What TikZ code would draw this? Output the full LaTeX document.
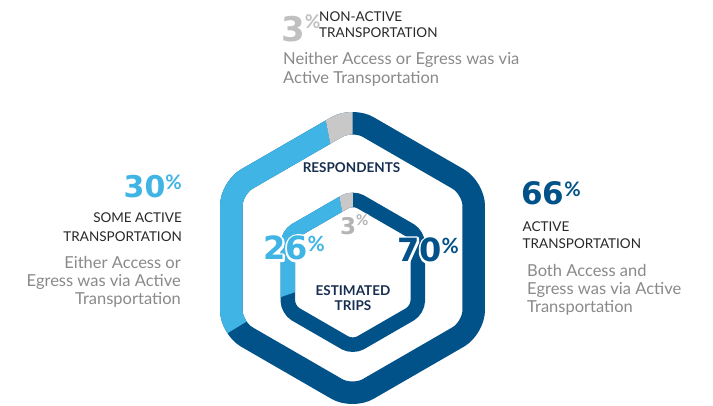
\documentclass[tikz,border=0pt]{standalone}
\usepackage{fontspec}
\setmainfont{Lato}
\newfontfamily\numfont{DejaVu Sans}
\newfontfamily\halofont{DejaVu Sans}[BoldFeatures={FakeBold=14}]
\newfontfamily\halopctfont{Lato}[BoldFeatures={FakeBold=14}]
\definecolor{dkb}{RGB}{0,82,137}
\definecolor{ltb}{RGB}{63,180,229}
\definecolor{ringgray}{RGB}{200,200,200}
\definecolor{navy}{RGB}{24,46,80}
\definecolor{desc}{RGB}{138,138,138}
\definecolor{lab}{RGB}{40,40,40}
\definecolor{numgray}{RGB}{192,192,192}
\definecolor{numgrayin}{RGB}{180,180,180}
% #1 digit font, #2 percent font, #3 digit size, #4 percent size, #5 raise, #6 digits
\newcommand{\bignumf}[6]{{#1\bfseries\fontsize{#3}{#3}\selectfont #6\raisebox{#5pt}{#2\bfseries\fontsize{#4}{#4}\selectfont\%}}}
\newcommand{\bignum}[4]{\bignumf{\numfont}{\rmfamily}{#1}{#2}{#3}{#4}}
\newcommand{\halonum}[4]{\rlap{\color{white}\bignumf{\halofont}{\halopctfont}{#1}{#2}{#3}{#4}}\bignum{#1}{#2}{#3}{#4}}
\newcommand{\outerhex}{(60:121.24) -- (90:140) -- (150:140) -- (210:140) -- (270:140) -- (330:140) -- (30:140) -- cycle}
\newcommand{\innerhex}{(60:64.95) -- (90:75) -- (150:75) -- (210:75) -- (270:75) -- (330:75) -- (30:75) -- cycle}
\tikzset{
  outring/.style={line width=22.5pt, rounded corners=18pt},
  inring/.style={line width=14.5pt, rounded corners=9pt},
  lbl/.style={inner sep=0pt, text=lab, font=\fontsize{13.5}{13.5}\selectfont},
  dsc/.style={inner sep=0pt, text=desc, font=\fontsize{16.5}{16.5}\selectfont},
  ctr/.style={inner sep=0pt, text=navy, font=\bfseries\fontsize{13.5}{13.5}\selectfont},
  num/.style={inner sep=0pt, line join=round}
}
\begin{document}
\begin{tikzpicture}[x=1pt,y=1pt]
\fill[white] (0,0) rectangle (713,405);
\useasboundingbox (0,0) rectangle (713,405);
% outer ring (respondents)
\begin{scope}[shift={(352.5,147)}]
  \draw[outring, dkb] \outerhex;
  \begin{scope}
    \clip (0,0) -- (101:400) arc[start angle=101, end angle=211, radius=400] -- cycle;
    \draw[outring, ltb] \outerhex;
  \end{scope}
  \begin{scope}
    \clip (0,0) -- (90:400) arc[start angle=90, end angle=101, radius=400] -- cycle;
    \draw[outring, ringgray] \outerhex;
  \end{scope}
\end{scope}
% inner ring (estimated trips)
\begin{scope}[shift={(352.8,132.7)}]
  \draw[inring, dkb] \innerhex;
  \begin{scope}
    \clip (0,0) -- (100:300) arc[start angle=100, end angle=199, radius=300] -- cycle;
    \draw[inring, ltb] \innerhex;
  \end{scope}
  \begin{scope}
    \clip (0,0) -- (90:300) arc[start angle=90, end angle=100, radius=300] -- cycle;
    \draw[inring, ringgray] \innerhex;
  \end{scope}
\end{scope}
% centre labels
\node[ctr, anchor=base] (resp) at (351.5,232) {RESPONDENTS};
\node[ctr, anchor=base] (est) at (353,110) {ESTIMATED};
\node[ctr, anchor=base] (trips) at (353,95) {TRIPS};
% inner numbers
\node[num, anchor=base west, text=ltb] (i26) at (263,145) {\halonum{32}{21}{8.6}{26}};
\node[num, anchor=base west, text=dkb] (i70) at (397,143) {\halonum{32}{21}{8.6}{70}};
\node[num, anchor=base west, text=numgrayin] (i3) at (340,170) {\halonum{23}{15}{9.3}{3}};
% top: non-active
\node[num, anchor=base west, text=numgray] (t3) at (281,363) {\bignum{34}{19}{13.5}{3}};
\node[lbl, anchor=base west] (na1) at (319,383) {NON-ACTIVE};
\node[lbl, anchor=base west] (na2) at (319,367) {TRANSPORTATION};
\node[dsc, anchor=base west] (nd1) at (283,340) {Neither Access or Egress was via};
\node[dsc, anchor=base west] (nd2) at (283,321) {Active Transportation};
% left: some active
\node[num, anchor=base east, text=ltb] (l30) at (182,207) {\bignum{30}{20}{8}{30}};
\node[lbl, anchor=base east] (sa1) at (182,182) {SOME ACTIVE};
\node[lbl, anchor=base east] (sa2) at (182,163) {TRANSPORTATION};
\node[dsc, anchor=base east] (sd1) at (181,136.5) {Either Access or};
\node[dsc, anchor=base east] (sd2) at (181,118.5) {Egress was via Active};
\node[dsc, anchor=base east] (sd3) at (181,100.5) {Transportation};
% right: active
\node[num, anchor=base west, text=dkb] (r66) at (521,200) {\bignum{31}{20}{8.6}{66}};
\node[lbl, anchor=base west] (aa1) at (522.5,173) {ACTIVE};
\node[lbl, anchor=base west] (aa2) at (522.5,157) {TRANSPORTATION};
\node[dsc, anchor=base west] (ad1) at (527,128.5) {Both Access and};
\node[dsc, anchor=base west] (ad2) at (527,110.5) {Egress was via Active};
\node[dsc, anchor=base west] (ad3) at (527,92.5) {Transportation};
\end{tikzpicture}
\end{document}
